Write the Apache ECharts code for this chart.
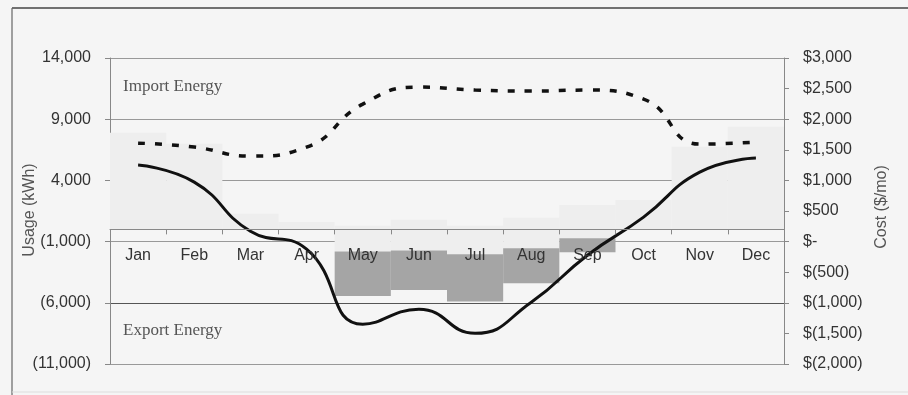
<!DOCTYPE html>
<html>
<head>
<meta charset="utf-8">
<script src="https://cdn.jsdelivr.net/npm/echarts@6/dist/echarts.min.js"></script>
<style>
  html, body { margin: 0; padding: 0; background: #f5f5f5; }
  #chart { width: 908px; height: 395px; }
</style>
</head>
<body>
<div id="chart"></div>
<script>
// Monthly energy balance and cost
const months = ['Jan', 'Feb', 'Mar', 'Apr', 'May', 'Jun', 'Jul', 'Aug', 'Sep', 'Oct', 'Nov', 'Dec'];

// kWh drawn from the grid each month
const importEnergy = [7900, 7000, 1270, 610, 290, 780, 290, 940, 2000, 2400, 6750, 8380];
// kWh offset below zero before export starts
const exportOffset = [0, 0, 0, 0, -1815, -1735, -2030, -1540, -720, 0, 0, 0];
// kWh sent back to the grid
const exportEnergy = [0, 0, 0, 0, -3620, -3210, -3870, -2860, -1150, 0, 0, 0];

// $/mo cost without generation (dashed) and net cost (solid)
const grossCost = [1609, 1544, 1397, 1544, 2247, 2525, 2476, 2460, 2476, 2329, 1593, 1626];
const netCost = [1250, 972, 170, -124, -1351, -1106, -1498, -990, -222, 400, 1135, 1364];

// axis ranges
const usageMin = -11000, usageMax = 14000, usageStep = 5000;
const costMin = -2000, costMax = 3000, costStep = 500;

// plot frame
const gridTop = 58, gridBottom = 31, chartHeight = 395;
const plotHeight = chartHeight - gridTop - gridBottom;
// lift the month axis from the bottom edge up to the zero usage line
const zeroLift = plotHeight * (0 - usageMin) / (usageMax - usageMin);

function thousands(n) {
  return String(Math.round(n)).replace(/\B(?=(\d{3})+(?!\d))/g, ',');
}
function usageLabel(v) {
  return v < 0 ? '(' + thousands(-v) + ')' : thousands(v);
}
function costLabel(v) {
  if (v === 0) return '$-';
  return v < 0 ? '$(' + thousands(-v) + ')' : '$' + thousands(v);
}

const chart = echarts.init(document.getElementById('chart'));
const tickFont = { fontFamily: 'Liberation Sans, Arial, sans-serif', fontSize: 16, color: '#333' };
const titleFont = 'Liberation Sans, Arial, sans-serif';
const lightFill = '#eeeeee';

chart.setOption({
  backgroundColor: '#f5f5f5',
  animation: false,
  grid: { left: 110, right: 124, top: gridTop, bottom: gridBottom, containLabel: false },
  xAxis: {
    type: 'category',
    data: months,
    boundaryGap: true,
    offset: -zeroLift,
    z: 10,
    axisLine: { onZero: false, lineStyle: { color: '#888', width: 1 } },
    axisTick: { show: true, length: 5, lineStyle: { color: '#888' } },
    axisLabel: Object.assign({ margin: 18 }, tickFont),
    splitLine: { show: false }
  },
  yAxis: [
    {
      type: 'value',
      min: usageMin, max: usageMax, interval: usageStep,
      axisLine: { show: true, lineStyle: { color: '#888' } },
      axisTick: { show: true, length: 5, lineStyle: { color: '#888' } },
      axisLabel: Object.assign({ margin: 19, formatter: usageLabel }, tickFont),
      splitLine: { show: true, lineStyle: { color: ['#999', '#555', '#999', '#999', '#999', '#999'], width: 1 } }
    },
    {
      type: 'value',
      min: costMin, max: costMax, interval: costStep,
      axisLine: { show: true, lineStyle: { color: '#888' } },
      axisTick: { show: true, length: 5, lineStyle: { color: '#888' } },
      axisLabel: Object.assign({ margin: 19, formatter: costLabel }, tickFont),
      splitLine: { show: false }
    }
  ],
  series: [
    {
      name: 'Import', type: 'bar', stack: 'energy', data: importEnergy,
      barCategoryGap: '0%', itemStyle: { color: lightFill }, z: 1
    },
    {
      name: 'Offset', type: 'bar', stack: 'energy', data: exportOffset,
      barCategoryGap: '0%', itemStyle: { color: lightFill }, z: 1
    },
    {
      name: 'Export', type: 'bar', stack: 'energy', data: exportEnergy,
      barCategoryGap: '0%', itemStyle: { color: '#a5a5a5' }, z: 1
    },
    {
      name: 'Gross cost', type: 'line', yAxisIndex: 1, data: grossCost,
      smooth: 0.5, symbol: 'none',
      lineStyle: { color: '#111', width: 3.5, type: [7, 10], cap: 'butt' }, z: 3
    },
    {
      name: 'Net cost', type: 'line', yAxisIndex: 1, data: netCost,
      smooth: 0.5, symbol: 'none',
      lineStyle: { color: '#111', width: 3 }, z: 3
    }
  ],
  graphic: [
    { type: 'line', shape: { x1: 12, y1: 8, x2: 908, y2: 8 }, style: { stroke: '#444', lineWidth: 1.5 }, silent: true },
    { type: 'line', shape: { x1: 12, y1: 8, x2: 12, y2: 395 }, style: { stroke: '#666', lineWidth: 1.2 }, silent: true },
    { type: 'line', shape: { x1: 12, y1: 392, x2: 908, y2: 392 }, style: { stroke: '#ddd', lineWidth: 1 }, silent: true },
    {
      type: 'text', x: 30, y: 210, rotation: Math.PI / 2, silent: true,
      style: { text: 'Usage (kWh)', fontFamily: titleFont, fontSize: 16, fill: '#555', align: 'center', verticalAlign: 'middle' }
    },
    {
      type: 'text', x: 882, y: 207, rotation: Math.PI / 2, silent: true,
      style: { text: 'Cost ($/mo)', fontFamily: titleFont, fontSize: 16, fill: '#555', align: 'center', verticalAlign: 'middle' }
    },
    {
      type: 'text', left: 123, top: 78, silent: true,
      style: { text: 'Import Energy', fontFamily: 'Liberation Serif, Times New Roman, serif', fontSize: 17, fill: '#555' }
    },
    {
      type: 'text', left: 123, top: 322, silent: true,
      style: { text: 'Export Energy', fontFamily: 'Liberation Serif, Times New Roman, serif', fontSize: 17, fill: '#555' }
    }
  ]
});
</script>
</body>
</html>
